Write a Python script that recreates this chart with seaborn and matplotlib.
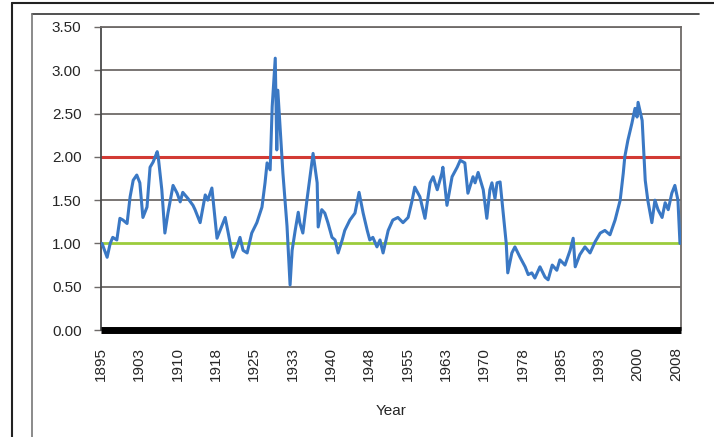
import numpy as np
import pandas as pd
import matplotlib
matplotlib.use("Agg")
import matplotlib.pyplot as plt
import seaborn as sns
from matplotlib.lines import Line2D

# ==============================================
# DATA
# ==============================================

years = [
    1895.2, 1896.2, 1896.8, 1897.3, 1898.1, 1898.7, 1899.3, 1900.1, 1900.7, 1901.3,
    1902.0, 1902.6, 1903.2, 1904.0, 1904.6, 1905.2, 1906.0, 1906.2, 1906.9, 1907.5,
    1908.1, 1909.1, 1909.9, 1910.5, 1911.0, 1912.0, 1913.0, 1913.4, 1914.4, 1915.4,
    1915.9, 1916.7, 1917.7, 1918.3, 1919.3, 1919.9, 1920.8, 1921.6, 1922.2, 1922.8,
    1923.6, 1924.5, 1925.5, 1926.5, 1927.1, 1927.5, 1928.1, 1928.5, 1929.1, 1929.4,
    1929.6, 1930.2, 1930.6, 1931.4, 1932.0, 1932.4, 1933.0, 1933.6, 1933.9, 1934.5,
    1935.3, 1935.9, 1936.5, 1937.3, 1937.5, 1938.2, 1938.8, 1939.4, 1940.2, 1940.8,
    1941.4, 1942.2, 1942.7, 1943.7, 1944.7, 1945.5, 1946.3, 1947.1, 1947.6, 1948.2,
    1949.0, 1949.6, 1950.2, 1951.2, 1952.1, 1953.1, 1954.1, 1955.1, 1955.9, 1956.4,
    1957.4, 1958.4, 1959.4, 1960.0, 1960.8, 1961.7, 1961.9, 1962.7, 1963.7, 1964.7,
    1965.3, 1966.2, 1966.8, 1967.8, 1968.2, 1968.8, 1969.8, 1970.5, 1971.1, 1971.5,
    1972.1, 1972.5, 1973.1, 1973.7, 1974.3, 1974.6, 1975.4, 1976.0, 1977.0, 1978.0,
    1978.6, 1979.3, 1979.9, 1980.9, 1981.9, 1982.5, 1983.3, 1984.2, 1984.8, 1985.8,
    1986.8, 1987.4, 1987.8, 1988.7, 1989.7, 1990.7, 1991.7, 1992.7, 1993.6, 1994.6,
    1995.6, 1996.6, 1997.2, 1997.5, 1998.1, 1998.9, 1999.5, 1999.9, 2000.1, 2000.9,
    2001.5, 2002.0, 2002.8, 2003.4, 2004.0, 2004.8, 2005.4, 2006.0, 2006.7, 2007.3,
    2007.9, 2008.3,
]

ratio = [
    1.00, 0.84, 1.00, 1.07, 1.04, 1.29, 1.27, 1.23, 1.54, 1.73,
    1.79, 1.70, 1.30, 1.42, 1.88, 1.94, 2.06, 2.00, 1.62, 1.12,
    1.35, 1.67, 1.58, 1.48, 1.59, 1.52, 1.44, 1.39, 1.24, 1.56,
    1.50, 1.64, 1.06, 1.15, 1.30, 1.12, 0.84, 0.96, 1.07, 0.92,
    0.89, 1.12, 1.24, 1.42, 1.70, 1.93, 1.85, 2.58, 3.14, 2.08,
    2.77, 2.19, 1.81, 1.20, 0.52, 0.92, 1.15, 1.36, 1.24, 1.12,
    1.50, 1.77, 2.04, 1.70, 1.19, 1.39, 1.35, 1.24, 1.07, 1.04,
    0.89, 1.04, 1.15, 1.27, 1.35, 1.59, 1.35, 1.15, 1.04, 1.07,
    0.96, 1.04, 0.89, 1.15, 1.27, 1.30, 1.24, 1.30, 1.50, 1.65,
    1.54, 1.29, 1.70, 1.77, 1.62, 1.81, 1.88, 1.44, 1.77, 1.88,
    1.96, 1.93, 1.58, 1.77, 1.70, 1.82, 1.62, 1.29, 1.62, 1.70,
    1.52, 1.70, 1.71, 1.35, 1.00, 0.66, 0.89, 0.96, 0.84, 0.73,
    0.64, 0.66, 0.60, 0.73, 0.61, 0.58, 0.75, 0.69, 0.81, 0.75,
    0.92, 1.06, 0.73, 0.87, 0.96, 0.89, 1.02, 1.12, 1.15, 1.10,
    1.27, 1.50, 1.81, 2.00, 2.19, 2.39, 2.56, 2.46, 2.63, 2.42,
    1.73, 1.50, 1.24, 1.50, 1.39, 1.30, 1.47, 1.39, 1.58, 1.67,
    1.50, 1.00,
]

upper_level = 2.0   # red reference line
lower_level = 1.0   # green reference line

y_ticks = [0.0, 0.5, 1.0, 1.5, 2.0, 2.5, 3.0, 3.5]
x_tick_pos = [1895 + 7.5 * k for k in range(16)]
x_tick_labels = ['1895', '1903', '1910', '1918', '1925', '1933', '1940', '1948',
                 '1955', '1963', '1970', '1978', '1985', '1993', '2000', '2008']

df = pd.DataFrame({'Year': years, 'Ratio': ratio})

# ==============================================
# PLOT
# ==============================================

sns.set_style("white")
plt.rcParams['font.family'] = ['Liberation Sans', 'DejaVu Sans']

fig = plt.figure(figsize=(7.14, 4.37), dpi=100)
ax = fig.add_axes([101 / 714, 107 / 437, 580 / 714, 303 / 437])

# gridlines
for yv in y_ticks:
    if yv not in (0.0, upper_level, lower_level):
        ax.axhline(yv, color='#6e6a68', lw=1.3, zorder=1)

ax.axhline(upper_level, color='#d23a34', lw=2.2, zorder=2)
ax.axhline(lower_level, color='#9ccc3c', lw=2.0, zorder=2)

sns.lineplot(data=df, x='Year', y='Ratio', ax=ax, color='#3a78c4', lw=2.2, zorder=3)

ax.set_xlim(1895, 2008.5)
ax.set_ylim(0, 3.5)
ax.set_yticks(y_ticks)
ax.set_yticklabels([f'{v:.2f}' for v in y_ticks], fontsize=11)
ax.set_xticks(x_tick_pos)
ax.set_xticklabels(x_tick_labels, rotation=90, fontsize=11)
ax.set_xlabel('Year', fontsize=11, labelpad=17)
ax.set_ylabel('')

ax.tick_params(axis='y', length=5, width=1, color='#6e6a68', pad=9, left=True)
ax.tick_params(axis='x', length=0, pad=12)

for side in ['top', 'right']:
    ax.spines[side].set_color('#6e6a68')
    ax.spines[side].set_linewidth(1.3)
ax.spines['left'].set_color('#4a4a4a')
ax.spines['left'].set_linewidth(1.3)
ax.spines['bottom'].set_color('black')
ax.spines['bottom'].set_linewidth(5)
ax.spines['bottom'].set_capstyle('butt')

# outer frames
fig.add_artist(Line2D([12 / 714, 1.0], [1 - 3 / 437, 1 - 3 / 437], color='#222222', lw=1.5))
fig.add_artist(Line2D([12 / 714, 12 / 714], [0, 1 - 3 / 437], color='#222222', lw=1.5))
fig.add_artist(Line2D([32 / 714, 699 / 714], [1 - 14 / 437, 1 - 14 / 437], color='#333333', lw=1.2))
fig.add_artist(Line2D([32 / 714, 32 / 714], [0, 1 - 14 / 437], color='#777777', lw=1.2))

plt.savefig('out.png', dpi=100)
